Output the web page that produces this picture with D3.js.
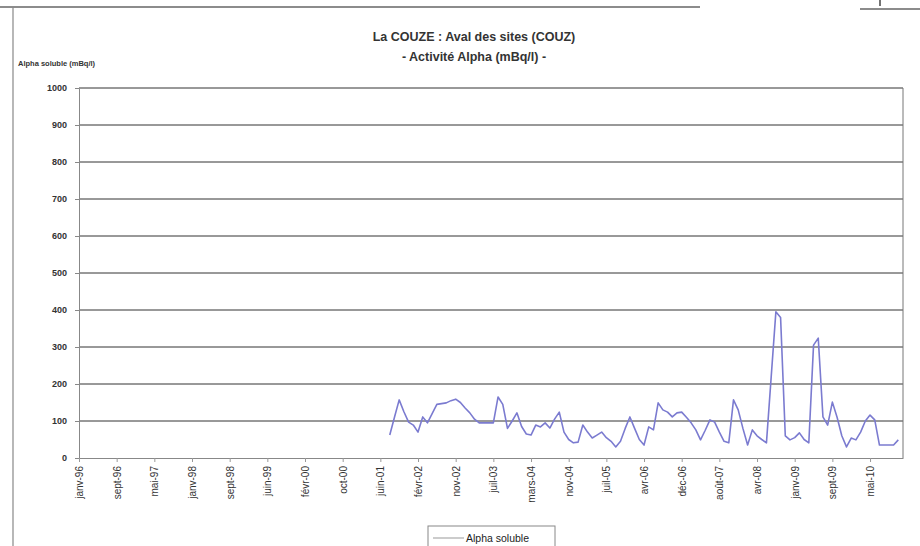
<!DOCTYPE html>
<html><head><meta charset="utf-8">
<script src="https://cdn.jsdelivr.net/npm/d3@7"></script>
<style>body{margin:0;background:#fff}svg{display:block}text{font-family:"Liberation Sans",Arial,sans-serif}</style>
</head><body><svg id="c" width="920" height="546"></svg>
<script>
const title1 = "La COUZE : Aval des sites (COUZ)";
const title2 = "- Activité Alpha (mBq/l) -";
const yAxisTitle = "Alpha soluble (mBq/l)";
const seriesName = "Alpha soluble";
const nCategories = 176;
const tickEvery = 8;
const tickLabels = ["janv-96","sept-96","mai-97","janv-98","sept-98","juin-99","févr-00","oct-00","juin-01","févr-02","nov-02","juil-03","mars-04","nov-04","juil-05","avr-06","déc-06","août-07","avr-08","janv-09","sept-09","mai-10"];
const yTicks = [0,100,200,300,400,500,600,700,800,900,1000];
const dataStart = 66;
const values = [62,110,157,125,97,89,70,111,95,120,145,147,149,155,159,150,135,122,105,95,95,95,95,165,145,80,100,122,85,65,
62,89,84,95,81,105,124,70,50,41,43,89,70,54,62,70,55,45,30,45,80,111,80,50,35,84,76,149,130,124,
111,122,124,110,95,76,49,75,103,97,70,45,41,157,130,80,35,76,60,50,41,218,395,380,60,49,55,68,50,41,
305,324,111,89,151,110,60,30,54,49,70,100,116,103,35,35,35,35,49];

const svg = d3.select("#c");
const L = 79, R = 903, T = 88, B = 458;
const x = d3.scaleLinear().domain([0, nCategories - 1]).range([L, R]);
const y = d3.scaleLinear().domain([0, 1000]).range([B, T]);

// page frame (scanned document look)
svg.append("line").attr("x1",0).attr("x2",700).attr("y1",7).attr("y2",7).attr("stroke","#666").attr("stroke-width",1.5);
svg.append("line").attr("x1",860).attr("x2",920).attr("y1",9).attr("y2",9).attr("stroke","#666").attr("stroke-width",1.5);
svg.append("line").attr("x1",880).attr("x2",880).attr("y1",0).attr("y2",6).attr("stroke","#444").attr("stroke-width",1.5);
svg.append("line").attr("x1",13).attr("x2",13).attr("y1",7).attr("y2",546).attr("stroke","#888").attr("stroke-width",1.2);

// titles
svg.append("text").attr("x",474).attr("y",41).attr("text-anchor","middle").attr("font-size",12.5).attr("font-weight","bold").attr("fill","#333").text(title1);
svg.append("text").attr("x",474).attr("y",61).attr("text-anchor","middle").attr("font-size",12.5).attr("font-weight","bold").attr("fill","#333").text(title2);
svg.append("text").attr("x",18).attr("y",66).attr("font-size",7.5).attr("font-weight","bold").attr("fill","#333").text(yAxisTitle);

// gridlines
svg.append("g").selectAll("line").data(yTicks.filter(d=>d>0)).join("line")
  .attr("x1",L).attr("x2",R).attr("y1",d=>y(d)).attr("y2",d=>y(d))
  .attr("stroke","#333").attr("stroke-width",1);

// y axis
const ya = svg.append("g").attr("transform",`translate(${L},0)`)
  .call(d3.axisLeft(y).tickValues(yTicks).tickFormat(d3.format("d")).tickSize(4).tickSizeOuter(0).tickPadding(8));
ya.select(".domain").attr("stroke","#888");
ya.selectAll(".tick line").attr("stroke","#888");
ya.selectAll("text").attr("font-size",9).attr("font-weight","bold").attr("fill","#333").attr("font-family","'Liberation Sans',Arial,sans-serif");

// right border
svg.append("line").attr("x1",R).attr("x2",R).attr("y1",T).attr("y2",B).attr("stroke","#777");

// x axis
const tickIdx = tickLabels.map((d,i)=>i*tickEvery);
const xa = svg.append("g").attr("transform",`translate(0,${B})`)
  .call(d3.axisBottom(x).tickValues(tickIdx).tickFormat((d,i)=>tickLabels[i]).tickSize(4).tickSizeOuter(0));
xa.select(".domain").attr("stroke","#888");
xa.selectAll(".tick line").attr("stroke","#999");
xa.selectAll("text").attr("font-size",10).attr("fill","#333").attr("font-family","'Liberation Sans',Arial,sans-serif")
  .attr("transform","rotate(-90)").attr("text-anchor","end").attr("x",-8).attr("y",0).attr("dy","0.35em");

// series
const pts = values.map((v,i)=>({i:dataStart+i, v}));
svg.append("path").datum(pts)
  .attr("d", d3.line().x(d=>x(d.i)).y(d=>y(d.v)))
  .attr("fill","none").attr("stroke","#7b7bd0").attr("stroke-width",1.6).attr("stroke-linejoin","round");

// legend
const lg = svg.append("g");
lg.append("rect").attr("x",428).attr("y",526).attr("width",127).attr("height",24).attr("fill","#fff").attr("stroke","#888");
lg.append("line").attr("x1",433).attr("x2",464).attr("y1",538).attr("y2",538).attr("stroke","#999").attr("stroke-width",1);
lg.append("text").attr("x",466).attr("y",542).attr("font-size",10.5).attr("fill","#222").text(seriesName);
</script></body></html>
